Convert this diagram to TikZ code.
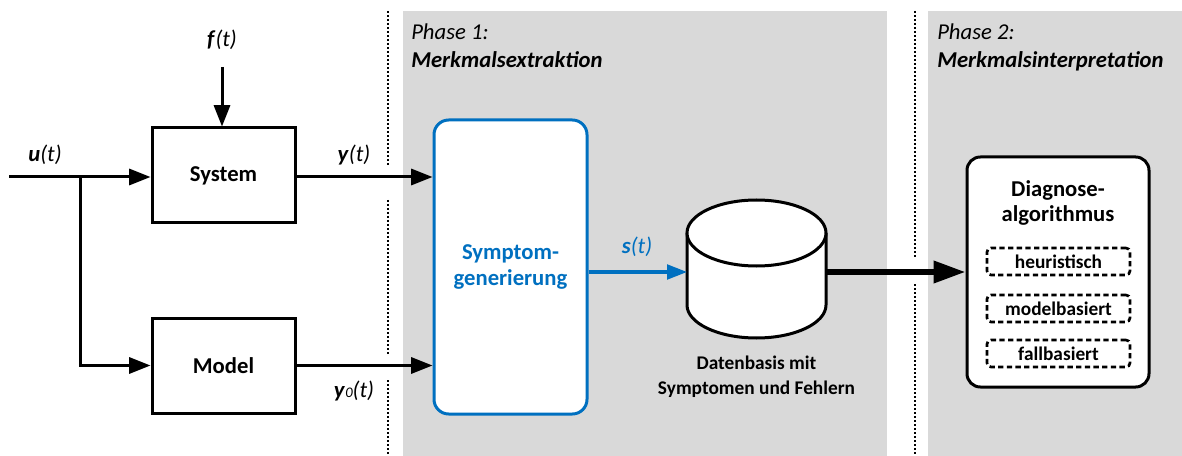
\documentclass[tikz,border=0pt]{standalone}
\usepackage{fontspec}
\setmainfont{Carlito}
\usetikzlibrary{arrows.meta,calc}
\definecolor{panelgray}{HTML}{D9D9D9}
\definecolor{symblue}{HTML}{0070C0}
\begin{document}
\begin{tikzpicture}[x=0.75pt,y=-0.75pt,
  big/.style={font=\fontsize{17}{20}\selectfont},
  small/.style={font=\fontsize{14.5}{18.75}\selectfont\bfseries},
  blk/.style={draw, line width=2.25pt, minimum width=107.25pt, minimum height=71.25pt, inner sep=0pt, fill=white, big, font=\fontsize{17}{20}\selectfont\bfseries},
  sig/.style={line width=2.25pt, -{Triangle[length=16pt,width=12pt]}},
  bluesig/.style={line width=2.5pt, symblue, -{Triangle[length=15pt,width=11pt]}},
  fatsig/.style={line width=4.5pt, -{Triangle[length=24pt,width=16pt]}},
  lbl/.style={inner sep=0pt, anchor=base, big},
  sepline/.style={line width=1.5pt, dash pattern=on 1.5pt off 1.5pt},
  methodbox/.style={draw, line width=2pt, dash pattern=on 4pt off 2.5pt, rounded corners=3pt, minimum width=107.25pt, minimum height=20.25pt, inner sep=0pt, small}
]
\useasboundingbox (0,0) rectangle (1182,456);
% panels
\fill[panelgray] (403,11) rectangle (887,456);
\fill[panelgray] (928,11) rectangle (1182,456);
% separators
\draw[sepline] (388,11) -- (388,165);
\draw[sepline] (388,200) -- (388,355);
\draw[sepline] (388,380) -- (388,456);
\draw[sepline] (915,11) -- (915,258);
\draw[sepline] (915,284) -- (915,456);
% phase labels
\node[lbl, anchor=base west, font=\fontsize{17}{20}\selectfont\itshape] (p1a) at (411,40) {Phase 1:};
\node[lbl, anchor=base west, font=\fontsize{17}{20}\selectfont\bfseries\itshape] (p1b) at (411,68) {Merkmalsextraktion};
\node[lbl, anchor=base west, font=\fontsize{17}{20}\selectfont\itshape] (p2a) at (937,40) {Phase 2:};
\node[lbl, anchor=base west, font=\fontsize{17}{20}\selectfont\bfseries\itshape] (p2b) at (937,68) {Merkmalsinterpretation};
% blocks
\node[blk] (sys) at (223.5,175.5) {System};
\node[blk] (mod) at (223.5,365.5) {Model};
\node[draw=symblue, line width=2.25pt, rounded corners=11pt, fill=white, minimum width=114.75pt, minimum height=220.5pt, inner sep=0pt,
      align=center, text=symblue, font=\fontsize{17}{20}\selectfont\bfseries] (sym) at (510.5,267) {Symptom-\\generierung};
% database cylinder
\node[minimum width=104.25pt, minimum height=99pt, inner sep=0pt] (db) at (756.5,272) {};
\filldraw[fill=white, line width=2.25pt] (687,233) -- (687,305)
  arc[start angle=180, end angle=360, x radius=52.125pt, y radius=24.75pt] -- (826,233);
\filldraw[fill=white, line width=2.25pt] (756.5,233) ellipse[x radius=52.125pt, y radius=24.75pt];
\node[small, align=center, inner sep=0pt] (dblab) at (756.5,377) {Datenbasis mit\\Symptomen und Fehlern};
% diagnosis
\node[draw, line width=2.25pt, rounded corners=10pt, fill=white, minimum width=136.5pt, minimum height=172.5pt, inner sep=0pt] (diag) at (1058,272) {};
\node[align=center, inner sep=0pt, font=\fontsize{17}{18.75}\selectfont\bfseries] (diagt) at (1058,203) {Diagnose-\\algorithmus};
\node[methodbox] (m1) at (1058.5,261.5) {heuristisch};
\node[methodbox] (m2) at (1058.5,308.5) {modelbasiert};
\node[methodbox] (m3) at (1058.5,353.5) {fallbasiert};
% signals
\coordinate (uin) at (9,177);
\coordinate (br) at (80,177);
\coordinate (fin) at (222,67);
\draw[sig] (uin) -- (uin -| sys.west);
\draw[sig, line cap=rect] (br) |- (mod.west);
\draw[sig] (fin) -- (fin |- sys.north);
\draw[sig] (sys.east |- uin) -- (uin -| sym.west);
\draw[sig] (mod.east) -- (mod.east -| sym.west);
\draw[bluesig] (sym.east |- db.west) -- (687,272);
\draw[fatsig] (826,272) -- (diag.west);
% signal labels
\node[lbl] (ulab) at (45,162) {\textbf{\textit{u}}\textit{(t)}};
\node[lbl] (flab) at (222,47) {\textbf{\textit{f}}\textit{(t)}};
\node[lbl] (ylab) at (354,162) {\textbf{\textit{y}}\textit{(t)}};
\node[lbl] (y0lab) at (354,397) {\textbf{\textit{y}}{\fontsize{11}{11}\selectfont\itshape 0}\textit{(t)}};
\node[lbl, text=symblue] (slab) at (637,253) {\textbf{\textit{s}}\textit{(t)}};
\end{tikzpicture}
\end{document}
